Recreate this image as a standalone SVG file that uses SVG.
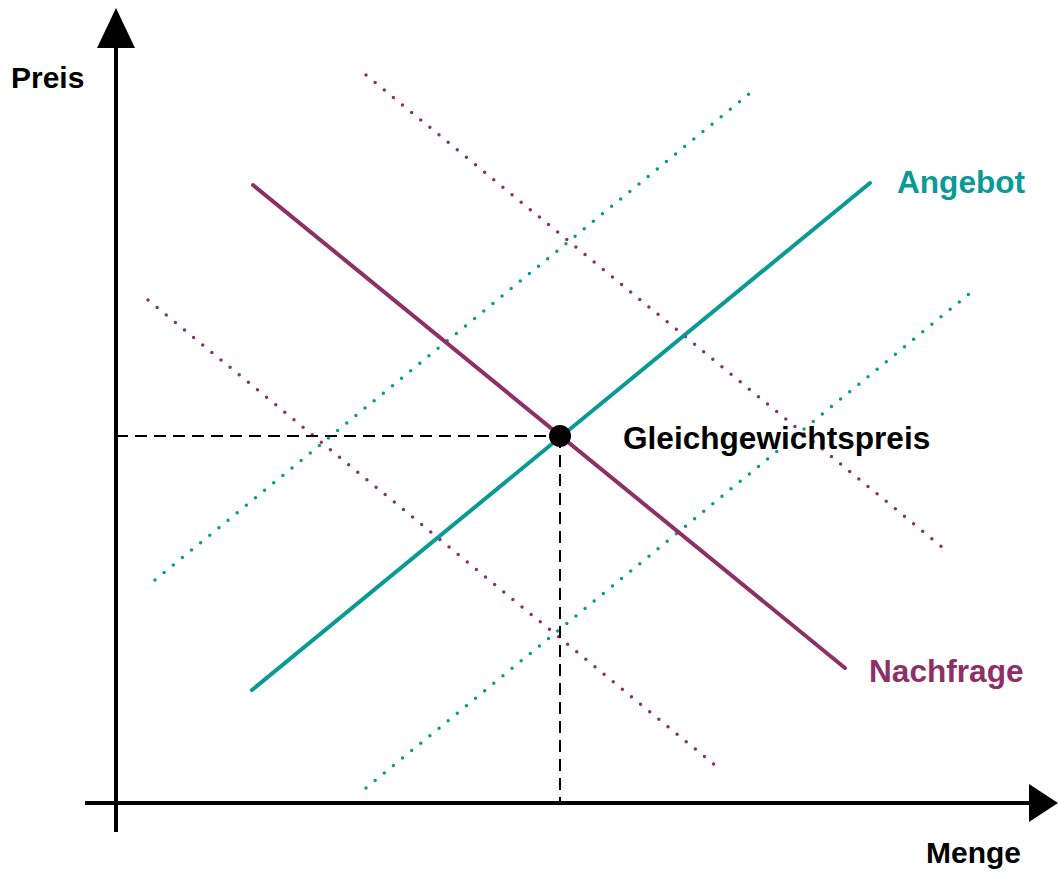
<svg xmlns="http://www.w3.org/2000/svg" width="1058" height="874" viewBox="0 0 1058 874">
<style>
.axis{stroke:#000;stroke-width:4;fill:none}
.head{fill:#000}
.teal{stroke:#0a9a96;stroke-width:4;fill:none;stroke-linecap:round}
.purple{stroke:#8c3066;stroke-width:4;fill:none;stroke-linecap:round}
.dt{stroke:#0a9a96;stroke-width:3.5;fill:none;stroke-linecap:round;stroke-dasharray:0 11.8}
.dp{stroke:#8c3066;stroke-width:3.5;fill:none;stroke-linecap:round;stroke-dasharray:0 11.8}
.dash{stroke:#000;stroke-width:2;fill:none;stroke-dasharray:12 7}
.lbl{font-family:"Liberation Sans",Arial,sans-serif;font-weight:bold;font-size:30px}
.big{font-size:31.6px}
</style>
<rect width="1058" height="874" fill="#fff"/>
<g id="axes">
<line class="axis" x1="116" y1="832" x2="116" y2="40"/>
<polygon class="head" points="116,8 97,48 135,48"/>
<line class="axis" x1="85" y1="803" x2="1030" y2="803"/>
<polygon class="head" points="1058,803 1029,784 1029,822"/>
</g>
<g id="connectors">
<line class="dt" x1="155" y1="580" x2="755" y2="89"/>
<line class="dt" x1="366" y1="788" x2="975" y2="289"/>
<line class="dp" x1="366" y1="75" x2="948" y2="552"/>
<line class="dp" x1="148" y1="300" x2="722" y2="771"/>
<line class="dash" x1="116" y1="436" x2="560" y2="436"/>
<line class="dash" x1="560" y1="436" x2="560" y2="803"/>
<line class="teal" x1="252" y1="690" x2="870" y2="183"/>
<line class="purple" x1="253" y1="185" x2="845" y2="668"/>
</g>
<g id="equilibrium">
<circle cx="560" cy="436" r="11" fill="#000"/>
<text class="lbl big" x="623" y="449" fill="#000">Gleichgewichtspreis</text>
</g>
<g id="labels">
<text class="lbl" x="11" y="88" fill="#000">Preis</text>
<text class="lbl" x="926" y="863" fill="#000">Menge</text>
<text class="lbl big" x="897" y="193" fill="#0a9a96">Angebot</text>
<text class="lbl big" x="869" y="682" fill="#8c3066">Nachfrage</text>
</g>
</svg>
